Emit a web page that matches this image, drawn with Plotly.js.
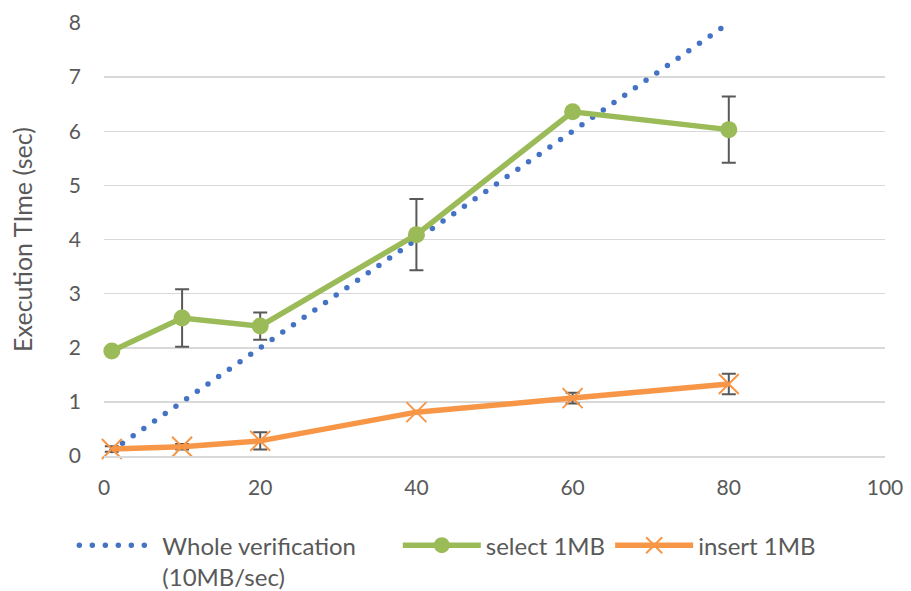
<!DOCTYPE html>
<html>
<head>
<meta charset="utf-8">
<script src="https://cdn.plot.ly/plotly-3.0.1.min.js"></script>
<style>html,body{margin:0;padding:0;background:#fff;}#chart{width:911px;height:591px;}</style>
</head>
<body>
<div id="chart"></div>
<script>
const xValues = [1, 10, 20, 40, 60, 80];
const wholeVerification = [0.1, 1, 2, 4, 6, 8];
const select1MB = [1.94, 2.55, 2.40, 4.09, 6.36, 6.03];
const select1MBErr = [0, 0.53, 0.25, 0.66, 0, 0.61];
const insert1MB = [0.13, 0.17, 0.28, 0.81, 1.07, 1.33];
const insert1MBErr = [0.05, 0.05, 0.16, 0, 0.1, 0.19];
const seriesNames = ["Whole verification" + "\u00a0".repeat(6) + "<br>(10MB/sec)", "select 1MB", "insert 1MB"];
const xTicks = [0, 20, 40, 60, 80, 100];
const yTicks = [0, 1, 2, 3, 4, 5, 6, 7, 8];

const errStyle = {color: '#595959', thickness: 2, width: 7};

const traces = [
  {
    x: xValues, y: wholeVerification, name: seriesNames[0], mode: 'lines',
    line: {color: '#4472C4', width: 5.5, dash: '0px,13px'}, cliponaxis: false
  },
  {
    x: xValues, y: select1MB, name: seriesNames[1], mode: 'lines+markers',
    line: {color: '#9BBB59', width: 5.5},
    marker: {symbol: 'circle', size: 17, color: '#9BBB59'},
    error_y: Object.assign({type: 'data', array: select1MBErr, visible: true}, errStyle),
    cliponaxis: false
  },
  {
    x: xValues, y: insert1MB, name: seriesNames[2], mode: 'lines+markers',
    line: {color: '#F79646', width: 5.5},
    marker: {symbol: 'x-thin-open', size: 20, color: '#F79646', line: {color: '#F79646', width: 2}},
    error_y: Object.assign({type: 'data', array: insert1MBErr, visible: true}, errStyle),
    cliponaxis: false
  }
];

const layout = {
  width: 911, height: 591,
  margin: {l: 104, r: 26, t: 23, b: 135, autoexpand: false},
  paper_bgcolor: '#fff', plot_bgcolor: '#fff',
  font: {family: 'Lato, "Open Sans", sans-serif', size: 21, color: '#595959'},
  showlegend: true,
  xaxis: {
    range: [0, 100], tickvals: xTicks, ticktext: xTicks.map(String),
    showgrid: false, zeroline: false, showline: true, linecolor: '#D9D9D9', linewidth: 1.5,
    ticks: '', tickfont: {size: 21, color: '#595959'}, ticklabelstandoff: 12
  },
  yaxis: {
    range: [0, 8], tickvals: yTicks, ticktext: yTicks.map(String),
    showgrid: true, gridcolor: '#D9D9D9', gridwidth: 1.5, zeroline: false, showline: false,
    ticks: '', tickfont: {size: 21, color: '#595959'}, ticklabelstandoff: 22,
    title: {text: 'Execution TIme (sec)', font: {size: 25, color: '#595959'}, standoff: 29}
  },
  legend: {
    orientation: 'h', x: -0.038, xanchor: 'left', y: -0.155, yanchor: 'top',
    font: {size: 24, color: '#595959'}, itemwidth: 78, tracegroupgap: 0,
    traceorder: 'normal', valign: 'top'
  }
};

Plotly.newPlot('chart', traces, layout, {displayModeBar: false, staticPlot: true}).then(function(gd){
  const paths = gd.querySelectorAll('.scatterlayer .trace:first-child .js-line, .legend .traces:first-child .js-line');
  paths.forEach(function(p){ p.style.strokeLinecap = 'round'; });
});
</script>
</body>
</html>
